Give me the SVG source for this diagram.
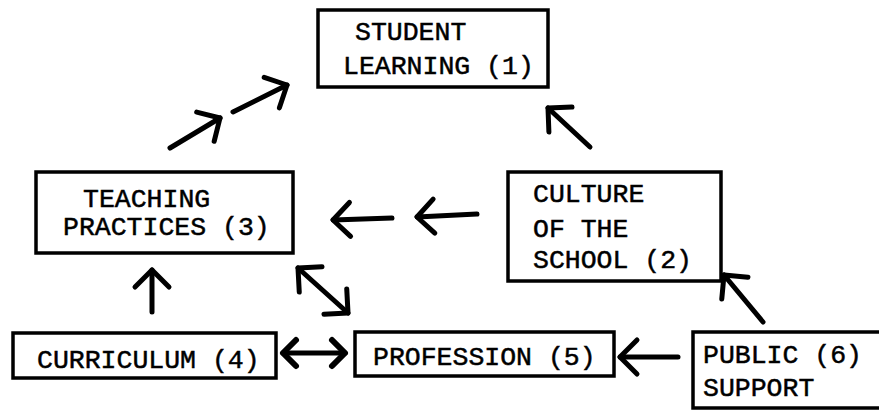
<svg xmlns="http://www.w3.org/2000/svg" width="879" height="412" viewBox="0 0 879 412">
<style>
.box{fill:#fff;stroke:#000;stroke-width:3.5}
.t{font-family:"Liberation Mono","Courier New",monospace;font-size:26.5px;fill:#000;stroke:#000;stroke-width:0.5}
.c{stroke:#000;stroke-width:5;fill:none;stroke-linecap:round}
</style>
<defs>
<marker id="ah" viewBox="-22 -22 28 44" refX="0" refY="0" markerWidth="28" markerHeight="44" markerUnits="userSpaceOnUse" orient="auto-start-reverse">
<path d="M -17 -17 L 0 0 L -17 17" fill="none" stroke="#000" stroke-width="5" stroke-linecap="round" stroke-linejoin="round"/>
</marker>
<marker id="ahs" viewBox="-22 -22 28 44" refX="0" refY="0" markerWidth="28" markerHeight="44" markerUnits="userSpaceOnUse" orient="auto-start-reverse">
<path d="M -13 -13 L 0 0 L -13 13" fill="none" stroke="#000" stroke-width="6" stroke-linecap="round" stroke-linejoin="round"/>
</marker>
</defs>
<rect width="879" height="412" fill="#fff"/>
<g id="connectors">
<line class="c" x1="170" y1="148" x2="220" y2="118" marker-end="url(#ah)"/>
<line class="c" x1="233" y1="112" x2="287" y2="85" marker-end="url(#ah)"/>
<line class="c" x1="590" y1="147" x2="548" y2="108" marker-end="url(#ah)"/>
<line class="c" x1="392" y1="218" x2="333" y2="220" marker-end="url(#ah)"/>
<line class="c" x1="477" y1="214" x2="417" y2="217" marker-end="url(#ah)"/>
<line class="c" x1="152" y1="312" x2="152" y2="270" marker-end="url(#ah)"/>
<line class="c" x1="298" y1="268" x2="348" y2="313" marker-start="url(#ah)" marker-end="url(#ah)"/>
<line class="c" x1="283" y1="353" x2="345" y2="353" marker-start="url(#ahs)" marker-end="url(#ahs)"/>
<line class="c" x1="678" y1="357" x2="620" y2="357" marker-end="url(#ah)"/>
<line class="c" x1="763" y1="322" x2="724" y2="275" marker-end="url(#ah)"/>
</g>
<g id="n1">
<rect class="box" x="318" y="10" width="230" height="77"/>
<text class="t" x="355" y="40">STUDENT</text>
<text class="t" x="343" y="74">LEARNING (1)</text>
</g>
<g id="n2">
<rect class="box" x="508" y="172" width="213" height="109"/>
<text class="t" x="533" y="202">CULTURE</text>
<text class="t" x="533" y="237">OF THE</text>
<text class="t" x="533" y="268">SCHOOL (2)</text>
</g>
<g id="n3">
<rect class="box" x="36" y="172" width="257" height="81"/>
<text class="t" x="83" y="207">TEACHING</text>
<text class="t" x="63" y="235">PRACTICES (3)</text>
</g>
<g id="n4">
<rect class="box" x="13" y="333" width="263" height="45"/>
<text class="t" x="37" y="368">CURRICULUM (4)</text>
</g>
<g id="n5">
<rect class="box" x="355" y="332" width="259" height="44"/>
<text class="t" x="373" y="365">PROFESSION (5)</text>
</g>
<g id="n6">
<rect class="box" x="693" y="332" width="210" height="76"/>
<text class="t" x="703" y="363">PUBLIC (6)</text>
<text class="t" x="703" y="396">SUPPORT</text>
</g>
</svg>
